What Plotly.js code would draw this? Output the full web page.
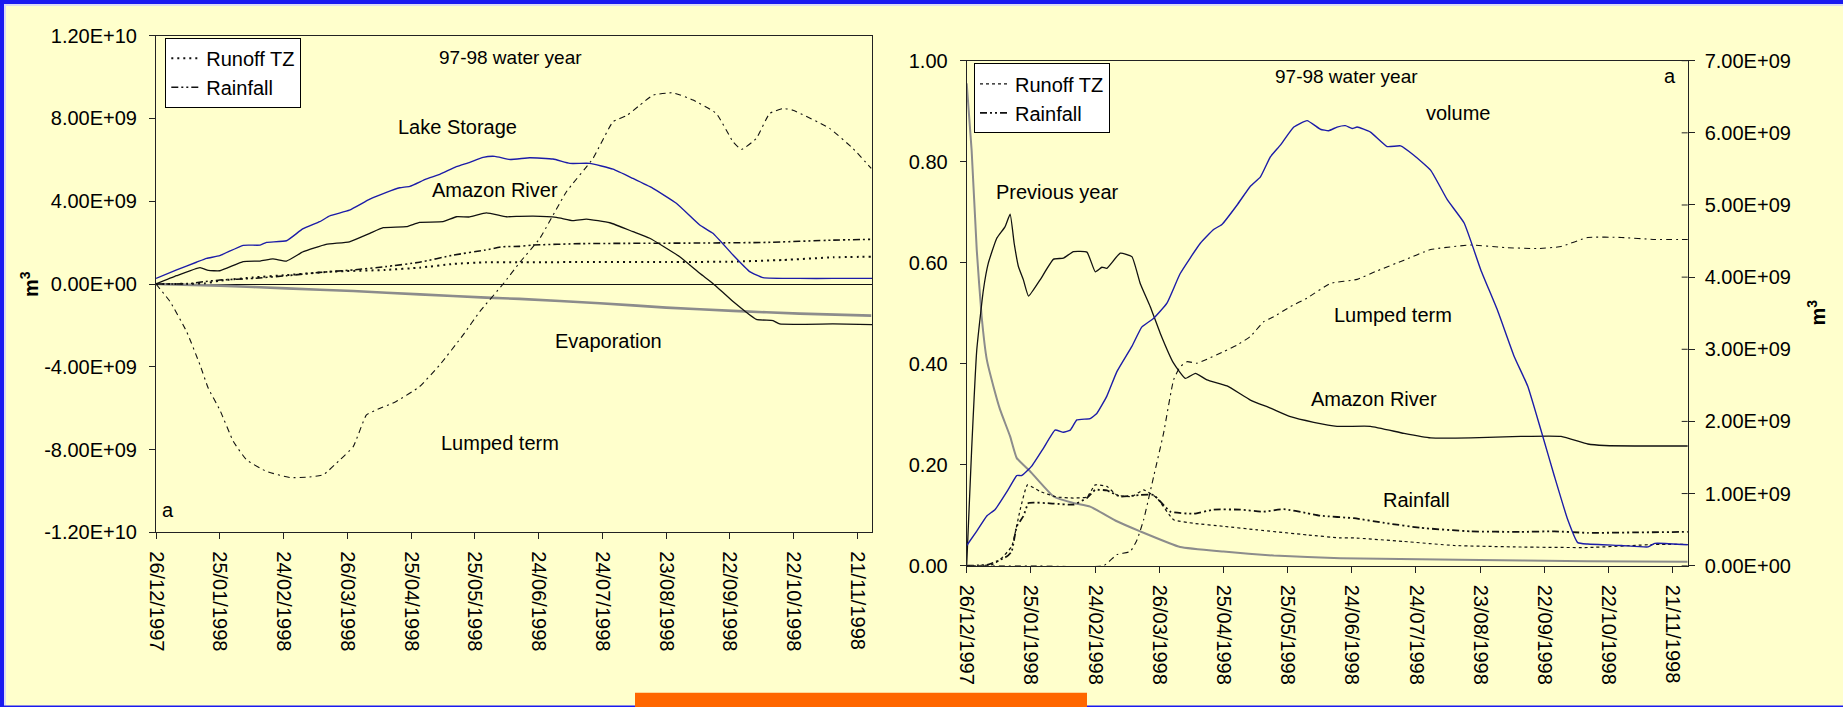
<!DOCTYPE html>
<html>
<head>
<meta charset="utf-8">
<script src="https://cdn.plot.ly/plotly-3.0.1.min.js"></script>
<style>
  html, body { margin: 0; padding: 0; background: #FFFFCC; }
  #chart { width: 1843px; height: 707px; }
</style>
</head>
<body>
<div id="chart"></div>
<script>
// ---------------- DATA ----------------
// x values are days counted from 26/12/1997
const startDate = '1997-12-26';
const tickDates = ['1997-12-26','1998-01-25','1998-02-24','1998-03-26','1998-04-25','1998-05-25',
                   '1998-06-24','1998-07-24','1998-08-23','1998-09-22','1998-10-22','1998-11-21'];
const xEnd = '1998-11-28';

// Left panel (values in 1E+09 m3)
const leftTickVals = [12, 8, 4, 0, -4, -8, -12];
const leftTickText = ['1.20E+10','8.00E+09','4.00E+09','0.00E+00','-4.00E+09','-8.00E+09','-1.20E+10'];

const lakeDays = [0, 9.7, 19, 23.8, 30, 41, 49, 52, 61.4, 69, 77, 82, 91, 100.6, 108.4, 114.7, 119.4, 127, 133.5, 141.3, 147.6, 153.9, 159.4, 166.5, 175.9, 186.8, 194.7, 204, 215, 224.4, 233.8, 244.8, 255.8, 262, 271.5, 279.3, 285.6, 302.8, 318.5, 337];
const lakeVals = [0.27, 0.68, 1.05, 1.24, 1.37, 1.87, 1.88, 2.01, 2.09, 2.66, 3.01, 3.30, 3.57, 4.10, 4.43, 4.65, 4.72, 5.07, 5.30, 5.67, 5.88, 6.12, 6.17, 6.02, 6.10, 6.04, 5.83, 5.83, 5.55, 5.10, 4.62, 3.90, 2.85, 2.45, 1.40, 0.60, 0.31, 0.27, 0.27, 0.27];

const amzDays = [0, 9.7, 20.7, 24.6, 30, 41, 49, 55, 61.4, 69.3, 80, 91, 100.6, 106.9, 117.8, 124, 135, 141.3, 147.6, 155.4, 164.8, 171, 177.4, 188.4, 196.2, 202.5, 213.5, 224.4, 232.3, 246.4, 255.8, 262, 271.5, 282.4, 290.3, 293.4, 318.5, 337];
const amzVals = [0, 0.40, 0.79, 0.66, 0.64, 1.08, 1.11, 1.21, 1.11, 1.56, 1.92, 2.04, 2.45, 2.72, 2.77, 2.98, 3.01, 3.25, 3.24, 3.44, 3.25, 3.27, 3.28, 3.22, 3.06, 3.14, 2.96, 2.53, 2.21, 1.32, 0.52, 0.03, -0.85, -1.71, -1.77, -1.93, -1.93, -1.96];

const runDays = [0, 15, 23, 30, 45.8, 61.4, 83, 108, 124, 140, 155, 171, 200, 240, 271.5, 295, 318.5, 337];
const runVals = [0, 0.01, 0.03, 0.16, 0.32, 0.43, 0.60, 0.68, 0.79, 0.97, 1.05, 1.05, 1.06, 1.06, 1.08, 1.16, 1.29, 1.32];

const rainDays = [0, 15, 22.2, 30, 45.8, 61.4, 77, 92.8, 108, 124, 140, 155, 163, 171, 177, 200, 255.8, 287, 318.5, 337];
const rainVals = [0, 0.01, 0.11, 0.19, 0.27, 0.40, 0.56, 0.68, 0.84, 1.05, 1.40, 1.64, 1.80, 1.82, 1.88, 1.95, 1.98, 2.01, 2.12, 2.16];

const evapDays = [0, 30, 61.4, 92.8, 124.1, 155.4, 171, 208.8, 240.1, 271.5, 302.8, 336.5];
const evapVals = [0, -0.08, -0.21, -0.34, -0.50, -0.66, -0.72, -0.93, -1.14, -1.30, -1.43, -1.53];

const lumpDays = [0, 6.6, 14.4, 20.7, 24.6, 30, 36.4, 42.6, 52, 63, 70.8, 78.7, 86.5, 92.8, 99, 103.7, 113, 124, 133.5, 144.5, 152.3, 163.3, 171.2, 180.6, 193.1, 205.6, 215, 221.3, 227.6, 233.9, 243.2, 252.7, 263.6, 271.5, 275.4, 282.4, 288.7, 295, 299.7, 316.9, 327.9, 336.5];
const lumpVals = [0, -0.85, -2.30, -3.91, -5.04, -6.08, -7.61, -8.50, -9.06, -9.35, -9.34, -9.22, -8.50, -7.86, -6.33, -6.08, -5.68, -4.96, -3.91, -2.46, -1.34, 0, 1.05, 2.21, 4.46, 6.07, 7.84, 8.13, 8.64, 9.13, 9.24, 8.89, 8.24, 6.87, 6.50, 7.03, 8.24, 8.48, 8.40, 7.52, 6.55, 5.59];

// Right panel: fractions (left axis) and volume (right axis, 1E+09 m3)
const fracTickVals = [0, 0.2, 0.4, 0.6, 0.8, 1.0];
const volTickVals = [0, 1, 2, 3, 4, 5, 6, 7];
const volTickText = ['0.00E+00','1.00E+09','2.00E+09','3.00E+09','4.00E+09','5.00E+09','6.00E+09','7.00E+09'];

const prevDays = [0, 2.3, 4.7, 7, 9.4, 12.5, 15.6, 20.3, 23.4, 29.6, 40.6, 49.9, 57.7, 70.2, 81.1, 99.8, 120, 143.5, 174.7, 230, 290, 337];
const prevVals = [0.955, 0.823, 0.625, 0.493, 0.408, 0.355, 0.309, 0.256, 0.213, 0.187, 0.137, 0.124, 0.117, 0.088, 0.068, 0.037, 0.028, 0.020, 0.015, 0.012, 0.009, 0.008];

const amzRDays = [0, 2.3, 4.7, 7.8, 10.1, 14, 17.9, 20.3, 22.2, 24.2, 26.5, 28.9, 34.3, 40.6, 45.2, 49.9, 56.2, 60.1, 63.2, 65.5, 71.8, 77.2, 81.1, 85.8, 90.5, 96.7, 102.2, 106.9, 112.3, 121.7, 132.6, 142, 151.3, 162.2, 173.1, 188.7, 204.4, 216.9, 235.6, 259, 277.8, 290.3, 298.1, 321.5, 337.1];
const amzRVals = [0.002, 0.229, 0.427, 0.546, 0.599, 0.648, 0.671, 0.696, 0.638, 0.592, 0.566, 0.534, 0.566, 0.607, 0.609, 0.622, 0.621, 0.582, 0.591, 0.589, 0.619, 0.612, 0.559, 0.513, 0.460, 0.401, 0.371, 0.381, 0.368, 0.356, 0.328, 0.312, 0.295, 0.284, 0.276, 0.276, 0.262, 0.253, 0.253, 0.256, 0.256, 0.241, 0.238, 0.237, 0.237];

const lumpRDays = [0, 30, 64, 70.2, 76.4, 79.6, 82.7, 87.4, 92, 96.7, 99.8, 103, 107.6, 112.3, 120.1, 126.4, 132.6, 138.8, 143.5, 151.3, 159.1, 170, 182.5, 191.9, 204.4, 216.9, 235.6, 251.3, 266.9, 277.8, 290.3, 306, 321.6, 337.2];
const lumpRVals = [0, 0, 0, 0.022, 0.028, 0.051, 0.091, 0.177, 0.262, 0.368, 0.394, 0.404, 0.401, 0.409, 0.424, 0.437, 0.454, 0.483, 0.493, 0.513, 0.530, 0.559, 0.567, 0.584, 0.605, 0.626, 0.635, 0.630, 0.628, 0.632, 0.650, 0.650, 0.646, 0.646];

const rainRDays = [0, 10, 18.7, 21, 23.4, 26.5, 28.9, 40.6, 49.9, 56.2, 60.1, 65.5, 71.8, 81.1, 87.4, 95.2, 106, 115.4, 128, 138.8, 148.2, 159.1, 165.3, 181, 196.5, 212.1, 235.6, 259, 274.7, 290.3, 313.7, 337.2];
const rainRVals = [0, 0.002, 0.018, 0.028, 0.078, 0.098, 0.124, 0.123, 0.121, 0.134, 0.150, 0.149, 0.137, 0.140, 0.140, 0.107, 0.103, 0.111, 0.111, 0.107, 0.112, 0.104, 0.099, 0.094, 0.084, 0.075, 0.068, 0.067, 0.068, 0.065, 0.066, 0.067];

const runRDays = [0, 12, 15.6, 21, 25, 28.4, 34.3, 42.1, 49.9, 56.2, 60.1, 65.5, 70.2, 77.2, 82.7, 88.9, 96.7, 106, 120, 135.7, 159.1, 174.7, 181, 204.4, 227.8, 259, 290.3, 321.6, 337.2];
const runRVals = [0, 0.002, 0.012, 0.038, 0.111, 0.160, 0.147, 0.136, 0.134, 0.136, 0.160, 0.157, 0.140, 0.137, 0.150, 0.134, 0.091, 0.084, 0.078, 0.071, 0.061, 0.055, 0.055, 0.048, 0.040, 0.037, 0.036, 0.042, 0.042];

const volDays = [0, 4.7, 9.4, 13.3, 19.5, 23.4, 25.7, 30.4, 35.9, 41.3, 45.2, 48.4, 51.5, 57.7, 60.8, 65.5, 70.2, 77.2, 81.9, 87.4, 93.6, 99.8, 109.2, 115.4, 119.3, 126.4, 132.6, 137.3, 142, 146.6, 152.9, 159.1, 165.3, 169.2, 173.1, 177, 180.2, 182.5, 188.7, 196.5, 202.8, 209, 216.9, 224.7, 232.5, 240.3, 248.1, 255.9, 262.2, 268.4, 274.7, 280.9, 285.6, 290.3, 306, 318.5, 321.6, 337.2];
const volVals = [0.28, 0.48, 0.69, 0.78, 1.06, 1.25, 1.25, 1.38, 1.63, 1.88, 1.85, 1.88, 2.02, 2.04, 2.11, 2.35, 2.69, 3.04, 3.31, 3.43, 3.64, 4.05, 4.47, 4.66, 4.73, 5.00, 5.26, 5.39, 5.67, 5.83, 6.08, 6.17, 6.05, 6.03, 6.08, 6.10, 6.06, 6.08, 6.01, 5.81, 5.82, 5.69, 5.48, 5.07, 4.75, 4.10, 3.54, 2.90, 2.49, 1.88, 1.24, 0.64, 0.32, 0.30, 0.28, 0.26, 0.31, 0.29];

// ---------------- HELPERS ----------------
const W = 1843, H = 707;
const base = Date.UTC(1997, 11, 26);
function toDates(days) {
  return days.map(d => new Date(base + d * 86400000).toISOString().slice(0, 19).replace('T', ' '));
}
const px = x => x / W;
const py = y => 1 - y / H;

const FONT = 'Liberation Sans, Arial, Helvetica, sans-serif';
const BLACK = '#111111';
const BLUE = '#1c1ca8';
const GREY = '#8c8c8c';

function line(days, vals, xa, ya, style, name, legend, show) {
  return {
    type: 'scatter', mode: 'lines', x: toDates(days), y: vals,
    xaxis: xa, yaxis: ya, name: name || '', showlegend: !!show,
    legend: legend || 'legend', line: Object.assign({shape: 'spline', smoothing: 0.4}, style),
    hoverinfo: 'skip'
  };
}

const traces = [
  // Left panel
  line(evapDays, evapVals, 'x', 'y', {color: GREY, width: 2.6}),
  line(lumpDays, lumpVals, 'x', 'y', {color: BLACK, width: 1.1, dash: '6px,4px,2px,4px'}),
  line(runDays, runVals, 'x', 'y', {color: BLACK, width: 2, dash: '2px,4px'}, 'Runoff TZ', 'legend', true),
  line(rainDays, rainVals, 'x', 'y', {color: BLACK, width: 1.6, dash: '7px,3px,2px,3px,2px,3px'}, 'Rainfall', 'legend', true),
  line(amzDays, amzVals, 'x', 'y', {color: BLACK, width: 1.3}),
  line(lakeDays, lakeVals, 'x', 'y', {color: BLUE, width: 1.4}),
  // Right panel
  line(prevDays, prevVals, 'x2', 'y2', {color: GREY, width: 2}),
  line(lumpRDays, lumpRVals, 'x2', 'y2', {color: BLACK, width: 1.1, dash: '6px,4px,2px,4px'}),
  line(runRDays, runRVals, 'x2', 'y2', {color: BLACK, width: 1.2, dash: '3px,3px'}, 'Runoff TZ', 'legend2', true),
  line(rainRDays, rainRVals, 'x2', 'y2', {color: BLACK, width: 1.8, dash: '7px,3px,2px,3px,2px,3px'}, 'Rainfall', 'legend2', true),
  line(amzRDays, amzRVals, 'x2', 'y2', {color: BLACK, width: 1.3}),
  line(volDays, volVals, 'x2', 'y3', {color: BLUE, width: 1.4})
];

// ---------------- LAYOUT ----------------
const tickFont = {family: FONT, size: 20, color: '#000'};
const dateAxis = {
  type: 'date', range: [startDate, xEnd], tickmode: 'array', tickvals: tickDates,
  tickformat: '%d/%m/%Y', tickangle: 90, ticks: 'outside', ticklen: 6, tickcolor: '#222',
  showline: true, linecolor: '#222', linewidth: 1, mirror: true, showgrid: false,
  zeroline: false, tickfont: tickFont, ticklabelstandoff: 8, automargin: false, fixedrange: true
};

const L = {x0: 156, x1: 872.3, y0: 35.7, y1: 532.3};
const R = {x0: 966.7, x1: 1687.7, y0: 60.7, y1: 565.7};

const layout = {
  width: W, height: H,
  margin: {l: 0, r: 0, t: 0, b: 0, pad: 0},
  paper_bgcolor: '#FFFFCC', plot_bgcolor: '#FFFFCC',
  font: {family: FONT, size: 20, color: '#000'},
  showlegend: true,
  xaxis: Object.assign({}, dateAxis, {domain: [px(L.x0), px(L.x1)], anchor: 'y'}),
  yaxis: {
    domain: [py(L.y1), py(L.y0)], anchor: 'x', range: [-12, 12],
    tickmode: 'array', tickvals: leftTickVals, ticktext: leftTickText,
    ticks: 'outside', ticklen: 6, tickcolor: '#222', showline: true, linecolor: '#222',
    mirror: true, showgrid: false, zeroline: true, zerolinecolor: '#111', zerolinewidth: 1,
    tickfont: tickFont, ticklabelstandoff: 8, automargin: false, fixedrange: true
  },
  xaxis2: Object.assign({}, dateAxis, {domain: [px(R.x0), px(R.x1)], anchor: 'y2'}),
  yaxis2: {
    domain: [py(R.y1), py(R.y0)], anchor: 'x2', range: [0, 1],
    tickmode: 'array', tickvals: fracTickVals, tickformat: '.2f',
    ticks: 'outside', ticklen: 6, tickcolor: '#222', showline: true, linecolor: '#222',
    showgrid: false, zeroline: false, tickfont: tickFont, ticklabelstandoff: 8,
    automargin: false, fixedrange: true
  },
  yaxis3: {
    overlaying: 'y2', anchor: 'x2', side: 'right', range: [0, 7],
    tickmode: 'array', tickvals: volTickVals, ticktext: volTickText,
    ticks: 'outside', ticklen: 6, tickcolor: '#222', showline: true, linecolor: '#222',
    showgrid: false, zeroline: false, tickfont: tickFont, ticklabelstandoff: 6,
    automargin: false, fixedrange: true
  },
  legend: {
    x: px(165.3), y: py(37.7), xanchor: 'left', yanchor: 'top',
    bgcolor: '#FFFFFF', bordercolor: '#000', borderwidth: 1,
    font: {family: FONT, size: 20, color: '#000'}, tracegroupgap: 0, itemwidth: 30
  },
  legend2: {
    x: px(974), y: py(63.3), xanchor: 'left', yanchor: 'top',
    bgcolor: '#FFFFFF', bordercolor: '#000', borderwidth: 1,
    font: {family: FONT, size: 20, color: '#000'}, tracegroupgap: 0, itemwidth: 30
  },
  annotations: [],
  shapes: []
};

// Text labels drawn inside the panels (centre positions in px)
const labels = [
  {t: '97-98 water year', x: 510, y: 58, s: 19},
  {t: 'Lake Storage', x: 457, y: 127, s: 20},
  {t: 'Amazon River', x: 495.5, y: 190, s: 20},
  {t: 'Evaporation', x: 608, y: 341, s: 20},
  {t: 'Lumped term', x: 500, y: 443, s: 20},
  {t: 'a', x: 167.5, y: 510, s: 20},
  {t: '97-98 water year', x: 1346, y: 76, s: 19},
  {t: 'a', x: 1669.7, y: 76, s: 20},
  {t: 'volume', x: 1458, y: 112.7, s: 20},
  {t: 'Previous year', x: 1057, y: 192, s: 20},
  {t: 'Lumped term', x: 1392.5, y: 315, s: 20},
  {t: 'Amazon River', x: 1374, y: 399, s: 20},
  {t: 'Rainfall', x: 1416, y: 500, s: 20}
];
labels.forEach(l => layout.annotations.push({
  text: l.t, x: px(l.x), y: py(l.y), xref: 'paper', yref: 'paper',
  xanchor: 'center', yanchor: 'middle', showarrow: false,
  font: {family: FONT, size: l.s, color: '#000'}
}));
// axis titles (m3), rotated
[{x: 29, y: 284}, {x: 1816, y: 312.5}].forEach(p => layout.annotations.push({
  text: '<b>m<sup>3</sup></b>', x: px(p.x), y: py(p.y), xref: 'paper', yref: 'paper',
  xanchor: 'center', yanchor: 'middle', showarrow: false, textangle: -90,
  font: {family: FONT, size: 20, color: '#000'}
}));

// inner half of the crossing ticks on the right-hand axis
volTickVals.forEach(v => layout.shapes.push({
  type: 'line', xref: 'paper', yref: 'y3', x0: px(R.x1 - 6), x1: px(R.x1), y0: v, y1: v,
  line: {color: '#222', width: 1}
}));

// slide frame
const frame = [
  {x0: 0, x1: W, y0: 0, y1: 4, c: '#1a1af0'},
  {x0: 0, x1: W, y0: 4, y1: 6, c: '#dcdcf4'},
  {x0: 0, x1: 4, y0: 0, y1: H, c: '#1a1af0'},
  {x0: 4, x1: 6, y0: 6, y1: H - 1.5, c: '#dcdcf4'},
  {x0: 0, x1: W, y0: H - 1.5, y1: H, c: '#1a1af0'},
  {x0: 635, x1: 1087, y0: 692.7, y1: H, c: '#FF6600'}
];
frame.forEach(f => layout.shapes.push({
  type: 'rect', xref: 'paper', yref: 'paper', layer: 'above',
  x0: px(f.x0), x1: px(f.x1), y0: py(f.y1), y1: py(f.y0),
  fillcolor: f.c, line: {width: 0}
}));

Plotly.newPlot('chart', traces, layout, {displayModeBar: false, staticPlot: true});
</script>
</body>
</html>
